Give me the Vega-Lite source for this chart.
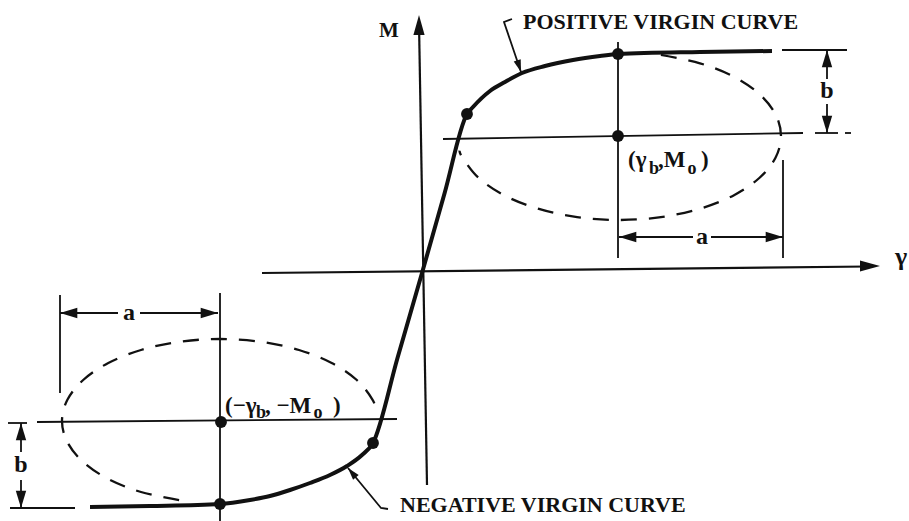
{
  "$schema": "https://vega.github.io/schema/vega-lite/v6.json",
  "width": 909,
  "height": 521,
  "autosize": {"type": "none"},
  "padding": 0,
  "background": "white",
  "config": {"view": {"stroke": null}},
  "datasets": {
    "curve": [
      {"i": 0, "x": -3.32, "y": -2.34},
      {"i": 1, "x": -2.72, "y": -2.33},
      {"i": 2, "x": -2.02, "y": -2.31},
      {"i": 3, "x": -1.72, "y": -2.27},
      {"i": 4, "x": -1.52, "y": -2.23},
      {"i": 5, "x": -1.32, "y": -2.17},
      {"i": 6, "x": -1.12, "y": -2.10},
      {"i": 7, "x": -0.92, "y": -2.02},
      {"i": 8, "x": -0.75, "y": -1.93},
      {"i": 9, "x": -0.60, "y": -1.82},
      {"i": 10, "x": -0.49, "y": -1.70},
      {"i": 11, "x": -0.245, "y": -0.85},
      {"i": 12, "x": 0.0, "y": 0.0},
      {"i": 13, "x": 0.225, "y": 0.795},
      {"i": 14, "x": 0.45, "y": 1.59},
      {"i": 15, "x": 0.51, "y": 1.66},
      {"i": 16, "x": 0.68, "y": 1.82},
      {"i": 17, "x": 0.83, "y": 1.91},
      {"i": 18, "x": 1.00, "y": 2.00},
      {"i": 19, "x": 1.23, "y": 2.07},
      {"i": 20, "x": 1.51, "y": 2.13},
      {"i": 21, "x": 1.78, "y": 2.17},
      {"i": 22, "x": 1.96, "y": 2.19},
      {"i": 23, "x": 2.78, "y": 2.21},
      {"i": 24, "x": 3.50, "y": 2.22}
    ],
    "axes": [
      {"g": "gamma", "i": 0, "x": -1.60, "y": 0.0},
      {"g": "gamma", "i": 1, "x": 4.46, "y": 0.065},
      {"g": "m", "i": 0, "x": -0.03, "y": 2.50},
      {"g": "m", "i": 1, "x": 0.05, "y": -2.12}
    ],
    "thin": [
      {"g": "upRef", "i": 0, "x": 0.21, "y": 1.34}, {"g": "upRef", "i": 1, "x": 3.81, "y": 1.40},
      {"g": "upVert", "i": 0, "x": 1.96, "y": 2.31}, {"g": "upVert", "i": 1, "x": 1.96, "y": 0.15},
      {"g": "rightExt", "i": 0, "x": 3.61, "y": 1.13}, {"g": "rightExt", "i": 1, "x": 3.61, "y": 0.15},
      {"g": "aUpL", "i": 0, "x": 1.97, "y": 0.36}, {"g": "aUpL", "i": 1, "x": 2.71, "y": 0.36},
      {"g": "aUpR", "i": 0, "x": 2.89, "y": 0.36}, {"g": "aUpR", "i": 1, "x": 3.61, "y": 0.36},
      {"g": "bRtTop", "i": 0, "x": 3.60, "y": 2.23}, {"g": "bRtTop", "i": 1, "x": 4.25, "y": 2.23},
      {"g": "bRt1", "i": 0, "x": 4.05, "y": 2.23}, {"g": "bRt1", "i": 1, "x": 4.05, "y": 1.94},
      {"g": "bRt2", "i": 0, "x": 4.05, "y": 1.69}, {"g": "bRt2", "i": 1, "x": 4.05, "y": 1.40},
      {"g": "bRtBot", "i": 0, "x": 3.93, "y": 1.40}, {"g": "bRtBot", "i": 1, "x": 4.16, "y": 1.40},
      {"g": "bRtDash", "i": 0, "x": 4.23, "y": 1.40}, {"g": "bRtDash", "i": 1, "x": 4.29, "y": 1.40},
      {"g": "loRef", "i": 0, "x": -3.85, "y": -1.49}, {"g": "loRef", "i": 1, "x": -0.25, "y": -1.46},
      {"g": "loVert", "i": 0, "x": -2.02, "y": -0.20}, {"g": "loVert", "i": 1, "x": -2.02, "y": -2.48},
      {"g": "leftExt", "i": 0, "x": -3.62, "y": -0.22}, {"g": "leftExt", "i": 1, "x": -3.62, "y": -1.20},
      {"g": "aLoL", "i": 0, "x": -3.62, "y": -0.40}, {"g": "aLoL", "i": 1, "x": -3.04, "y": -0.40},
      {"g": "aLoR", "i": 0, "x": -2.82, "y": -0.40}, {"g": "aLoR", "i": 1, "x": -2.04, "y": -0.40},
      {"g": "bLfTop", "i": 0, "x": -4.14, "y": -1.50}, {"g": "bLfTop", "i": 1, "x": -3.95, "y": -1.50},
      {"g": "bLf1", "i": 0, "x": -4.01, "y": -1.50}, {"g": "bLf1", "i": 1, "x": -4.01, "y": -1.79},
      {"g": "bLf2", "i": 0, "x": -4.01, "y": -2.07}, {"g": "bLf2", "i": 1, "x": -4.01, "y": -2.35},
      {"g": "bLfBot", "i": 0, "x": -4.12, "y": -2.35}, {"g": "bLfBot", "i": 1, "x": -3.47, "y": -2.35},
      {"g": "posLeader", "i": 0, "x": 0.90, "y": 2.54}, {"g": "posLeader", "i": 1, "x": 0.82, "y": 2.51}, {"g": "posLeader", "i": 2, "x": 0.99, "y": 2.01},
      {"g": "negLeader", "i": 0, "x": -0.34, "y": -2.36}, {"g": "negLeader", "i": 1, "x": -0.41, "y": -2.35}, {"g": "negLeader", "i": 2, "x": -0.74, "y": -1.95}
    ],
    "ellipses": [
      {"g": "up", "i": 0, "x": 2.389, "y": 2.181},
      {"g": "up", "i": 1, "x": 2.78, "y": 2.097},
      {"g": "up", "i": 2, "x": 3.116, "y": 1.964},
      {"g": "up", "i": 3, "x": 3.373, "y": 1.79},
      {"g": "up", "i": 4, "x": 3.535, "y": 1.587},
      {"g": "up", "i": 5, "x": 3.59, "y": 1.37},
      {"g": "up", "i": 6, "x": 3.535, "y": 1.153},
      {"g": "up", "i": 7, "x": 3.373, "y": 0.95},
      {"g": "up", "i": 8, "x": 3.116, "y": 0.776},
      {"g": "up", "i": 9, "x": 2.78, "y": 0.643},
      {"g": "up", "i": 10, "x": 2.389, "y": 0.559},
      {"g": "up", "i": 11, "x": 1.97, "y": 0.53},
      {"g": "up", "i": 12, "x": 1.551, "y": 0.559},
      {"g": "up", "i": 13, "x": 1.16, "y": 0.643},
      {"g": "up", "i": 14, "x": 0.824, "y": 0.776},
      {"g": "up", "i": 15, "x": 0.567, "y": 0.95},
      {"g": "up", "i": 16, "x": 0.405, "y": 1.153},
      {"g": "up", "i": 17, "x": 0.375, "y": 1.224},
      {"g": "lo", "i": 0, "x": -2.429, "y": -2.272},
      {"g": "lo", "i": 1, "x": -2.81, "y": -2.19},
      {"g": "lo", "i": 2, "x": -3.137, "y": -2.06},
      {"g": "lo", "i": 3, "x": -3.388, "y": -1.89},
      {"g": "lo", "i": 4, "x": -3.546, "y": -1.692},
      {"g": "lo", "i": 5, "x": -3.60, "y": -1.48},
      {"g": "lo", "i": 6, "x": -3.546, "y": -1.268},
      {"g": "lo", "i": 7, "x": -3.388, "y": -1.07},
      {"g": "lo", "i": 8, "x": -3.137, "y": -0.90},
      {"g": "lo", "i": 9, "x": -2.81, "y": -0.77},
      {"g": "lo", "i": 10, "x": -2.429, "y": -0.688},
      {"g": "lo", "i": 11, "x": -2.02, "y": -0.66},
      {"g": "lo", "i": 12, "x": -1.611, "y": -0.688},
      {"g": "lo", "i": 13, "x": -1.23, "y": -0.77},
      {"g": "lo", "i": 14, "x": -0.903, "y": -0.90},
      {"g": "lo", "i": 15, "x": -0.652, "y": -1.07},
      {"g": "lo", "i": 16, "x": -0.494, "y": -1.268},
      {"g": "lo", "i": 17, "x": -0.446, "y": -1.409}
    ],
    "dots": [
      {"x": 0.45, "y": 1.59},
      {"x": 1.96, "y": 2.19},
      {"x": 1.96, "y": 1.37},
      {"x": -0.49, "y": -1.70},
      {"x": -2.01, "y": -1.49},
      {"x": -2.02, "y": -2.31}
    ],
    "arrows": [
      {"kind": "axis", "x": 4.58, "y": 0.07, "heading": 0},
      {"kind": "axis", "x": -0.03, "y": 2.58, "heading": 270},
      {"kind": "dim", "x": 1.97, "y": 0.36, "heading": 180},
      {"kind": "dim", "x": 3.61, "y": 0.36, "heading": 0},
      {"kind": "dim", "x": -3.62, "y": -0.40, "heading": 180},
      {"kind": "dim", "x": -2.04, "y": -0.40, "heading": 0},
      {"kind": "dim", "x": 4.05, "y": 2.23, "heading": 270},
      {"kind": "dim", "x": 4.05, "y": 1.40, "heading": 90},
      {"kind": "dim", "x": -4.01, "y": -1.50, "heading": 270},
      {"kind": "dim", "x": -4.01, "y": -2.35, "heading": 90},
      {"kind": "lead", "x": 0.99, "y": 2.01, "heading": 72},
      {"kind": "lead", "x": -0.74, "y": -1.95, "heading": 230}
    ],
    "captions": [
      {"t": "POSITIVE VIRGIN CURVE", "x": 1.01, "y": 2.44},
      {"t": "NEGATIVE VIRGIN CURVE", "x": -0.22, "y": -2.39}
    ],
    "axisNames": [
      {"t": "M", "x": -0.33, "y": 2.36}
    ],
    "axisGreek": [
      {"t": "γ", "x": 4.79, "y": 0.08}
    ],
    "dims": [
      {"t": "a", "x": 2.80, "y": 0.36},
      {"t": "a", "x": -2.93, "y": -0.40},
      {"t": "b", "x": 4.05, "y": 1.82},
      {"t": "b", "x": -4.01, "y": -1.92}
    ],
    "coordMain": [
      {"t": "(γ", "x": 2.06, "y": 1.06},
      {"t": ",M", "x": 2.36, "y": 1.06},
      {"t": ")", "x": 2.79, "y": 1.06},
      {"t": "(−γ", "x": -1.97, "y": -1.40},
      {"t": ", −M", "x": -1.57, "y": -1.40},
      {"t": ")", "x": -0.89, "y": -1.40}
    ],
    "coordSub": [
      {"t": "b", "x": 2.27, "y": 0.99},
      {"t": "o", "x": 2.655, "y": 0.99},
      {"t": "b", "x": -1.66, "y": -1.45},
      {"t": "o", "x": -1.085, "y": -1.45}
    ]
  },
  "encoding": {
    "x": {"field": "x", "type": "quantitative", "scale": {"domain": [-4.22, 4.87], "nice": false, "zero": false}, "axis": null},
    "y": {"field": "y", "type": "quantitative", "scale": {"domain": [-2.48, 2.73], "nice": false, "zero": false}, "axis": null}
  },
  "layer": [
    {
      "data": {"name": "axes"},
      "mark": {"type": "line", "color": "#111", "strokeWidth": 2.2},
      "encoding": {"detail": {"field": "g"}, "order": {"field": "i"}}
    },
    {
      "data": {"name": "thin"},
      "mark": {"type": "line", "color": "#111", "strokeWidth": 1.8},
      "encoding": {"detail": {"field": "g"}, "order": {"field": "i"}}
    },
    {
      "data": {"name": "ellipses"},
      "mark": {"type": "line", "color": "#111", "strokeWidth": 2.3, "strokeDash": [16, 12], "interpolate": "cardinal"},
      "encoding": {"detail": {"field": "g"}, "order": {"field": "i"}}
    },
    {
      "data": {"name": "curve"},
      "mark": {"type": "line", "color": "#111", "strokeWidth": 4, "interpolate": "monotone"},
      "encoding": {"order": {"field": "i"}}
    },
    {
      "data": {"name": "dots"},
      "mark": {"type": "circle", "color": "#111", "size": 140, "opacity": 1}
    },
    {
      "data": {"name": "arrows"},
      "transform": [{"filter": "datum.kind === 'axis'"}],
      "mark": {"type": "point", "shape": "M0,0L-2,-0.56L-2,0.56Z", "filled": true, "color": "#111", "opacity": 1, "size": 400},
      "encoding": {"angle": {"field": "heading", "type": "quantitative", "scale": null}}
    },
    {
      "data": {"name": "arrows"},
      "transform": [{"filter": "datum.kind === 'dim'"}],
      "mark": {"type": "point", "shape": "M0,0L-2,-0.6L-2,0.6Z", "filled": true, "color": "#111", "opacity": 1, "size": 300},
      "encoding": {"angle": {"field": "heading", "type": "quantitative", "scale": null}}
    },
    {
      "data": {"name": "arrows"},
      "transform": [{"filter": "datum.kind === 'lead'"}],
      "mark": {"type": "point", "shape": "M0,0L-2,-0.6L-2,0.6Z", "filled": true, "color": "#111", "opacity": 1, "size": 150},
      "encoding": {"angle": {"field": "heading", "type": "quantitative", "scale": null}}
    },
    {
      "data": {"name": "captions"},
      "mark": {"type": "text", "font": "Liberation Serif", "fontWeight": "bold", "fontSize": 22, "align": "left", "baseline": "alphabetic", "color": "#111"},
      "encoding": {"text": {"field": "t"}}
    },
    {
      "data": {"name": "axisNames"},
      "mark": {"type": "text", "font": "Liberation Serif", "fontWeight": "bold", "fontSize": 21, "align": "center", "baseline": "alphabetic", "color": "#111"},
      "encoding": {"text": {"field": "t"}}
    },
    {
      "data": {"name": "axisGreek"},
      "mark": {"type": "text", "font": "Liberation Serif", "fontWeight": "bold", "fontSize": 26, "align": "center", "baseline": "alphabetic", "color": "#111"},
      "encoding": {"text": {"field": "t"}}
    },
    {
      "data": {"name": "dims"},
      "mark": {"type": "text", "font": "Liberation Serif", "fontWeight": "bold", "fontSize": 24, "align": "center", "baseline": "middle", "color": "#111"},
      "encoding": {"text": {"field": "t"}}
    },
    {
      "data": {"name": "coordMain"},
      "mark": {"type": "text", "font": "Liberation Serif", "fontWeight": "bold", "fontSize": 23, "align": "left", "baseline": "alphabetic", "color": "#111"},
      "encoding": {"text": {"field": "t"}}
    },
    {
      "data": {"name": "coordSub"},
      "mark": {"type": "text", "font": "Liberation Serif", "fontWeight": "bold", "fontSize": 18, "align": "left", "baseline": "alphabetic", "color": "#111"},
      "encoding": {"text": {"field": "t"}}
    }
  ]
}
